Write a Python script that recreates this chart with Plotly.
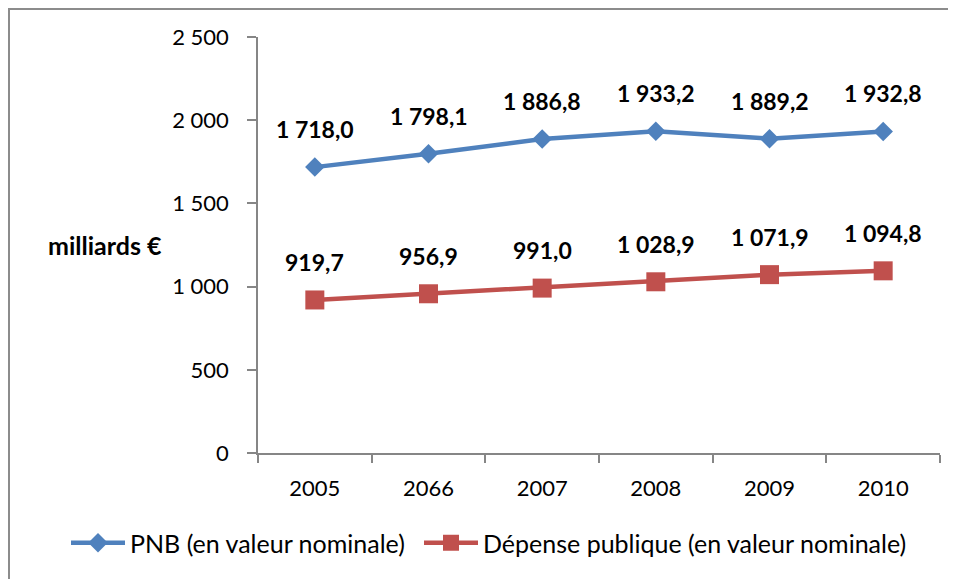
import plotly.graph_objects as go

categories = ["2005", "2066", "2007", "2008", "2009", "2010"]
pnb = [1718.0, 1798.1, 1886.8, 1933.2, 1889.2, 1932.8]
depense = [919.7, 956.9, 991.0, 1028.9, 1071.9, 1094.8]
series_names = ["PNB (en valeur nominale)", "Dépense publique (en valeur nominale)"]
y_tickvals = [0, 500, 1000, 1500, 2000, 2500]
y_title = "milliards €"

FONT = "Lato, Carlito, Calibri, sans-serif"
BLUE = "#4F81BD"
RED = "#C0504D"
AXIS = "#868686"

# page offset of the figure (browser body margin)
OFF = 8
L, T, PW, PH = 258 - OFF, 37 - OFF, 682, 416
W, H = 956, 579


def px(xp):
    return (xp - OFF - L) / PW


def py(yp):
    return (T + PH - (yp - OFF)) / PH


def fr(v):
    s = f"{v:,.1f}"
    return s.replace(",", " ").replace(".", ",")


fig = go.Figure()
fig.add_trace(go.Scatter(
    x=categories, y=pnb, name=series_names[0], mode="lines+markers",
    line=dict(color=BLUE, width=4.5),
    marker=dict(symbol="diamond", size=15, color=BLUE),
    legend="legend",
))
fig.add_trace(go.Scatter(
    x=categories, y=depense, name=series_names[1], mode="lines+markers",
    line=dict(color=RED, width=4.5),
    marker=dict(symbol="square", size=19, color=RED),
    legend="legend2",
))

for series in (pnb, depense):
    for i, v in enumerate(series):
        fig.add_annotation(
            x=i, y=v, xref="x", yref="y", text=f"<b>{fr(v)}</b>",
            showarrow=False, yshift=38, yanchor="middle",
            font=dict(family=FONT, size=23, color="black"),
        )

# y-axis title as horizontal annotation
fig.add_annotation(
    x=px(105), y=py(245), xref="paper", yref="paper",
    text=f"<b>{y_title}</b>", showarrow=False, xanchor="center", yanchor="middle",
    font=dict(family=FONT, size=25, color="black"),
)

# chart border (top/left visible, extends beyond the window)
fig.add_shape(
    type="rect", xref="paper", yref="paper",
    x0=(1 - L) / PW, x1=(W + 20 - L) / PW,
    y0=(T + PH - (H + 20)) / PH, y1=(T + PH - 1) / PH,
    line=dict(color="#8C8C8C", width=2), fillcolor="rgba(0,0,0,0)", layer="below",
)

legend_common = dict(
    orientation="h", xanchor="left", y=py(543), yanchor="middle",
    font=dict(family=FONT, size=25, color="black"),
    itemwidth=54, tracegroupgap=0, bgcolor="rgba(0,0,0,0)",
)

fig.update_layout(
    width=W, height=H,
    margin=dict(l=L, r=W - L - PW, t=T, b=H - T - PH, autoexpand=False),
    paper_bgcolor="white", plot_bgcolor="white",
    separators=", ",
    font=dict(family=FONT, size=22, color="black"),
    showlegend=True,
    legend=dict(x=px(66), **legend_common),
    legend2=dict(x=px(419), **legend_common),
)
fig.update_xaxes(
    type="category", range=[-0.5, len(categories) - 0.5],
    showgrid=False, zeroline=False,
    showline=True, linecolor=AXIS, linewidth=1.5,
    ticks="outside", tickson="boundaries", ticklen=8, tickcolor=AXIS, tickwidth=1.5,
    ticklabelstandoff=15, tickangle=0,
    tickfont=dict(family=FONT, size=22, color="black"),
)
fig.update_yaxes(
    range=[0, 2500], tickvals=y_tickvals, tickformat=",d",
    showgrid=False, zeroline=False,
    showline=True, linecolor=AXIS, linewidth=1.5,
    ticks="outside", ticklen=9, tickcolor=AXIS, tickwidth=1.5,
    ticklabelstandoff=14,
    tickfont=dict(family=FONT, size=22, color="black"),
)

fig.write_html("out.html")
